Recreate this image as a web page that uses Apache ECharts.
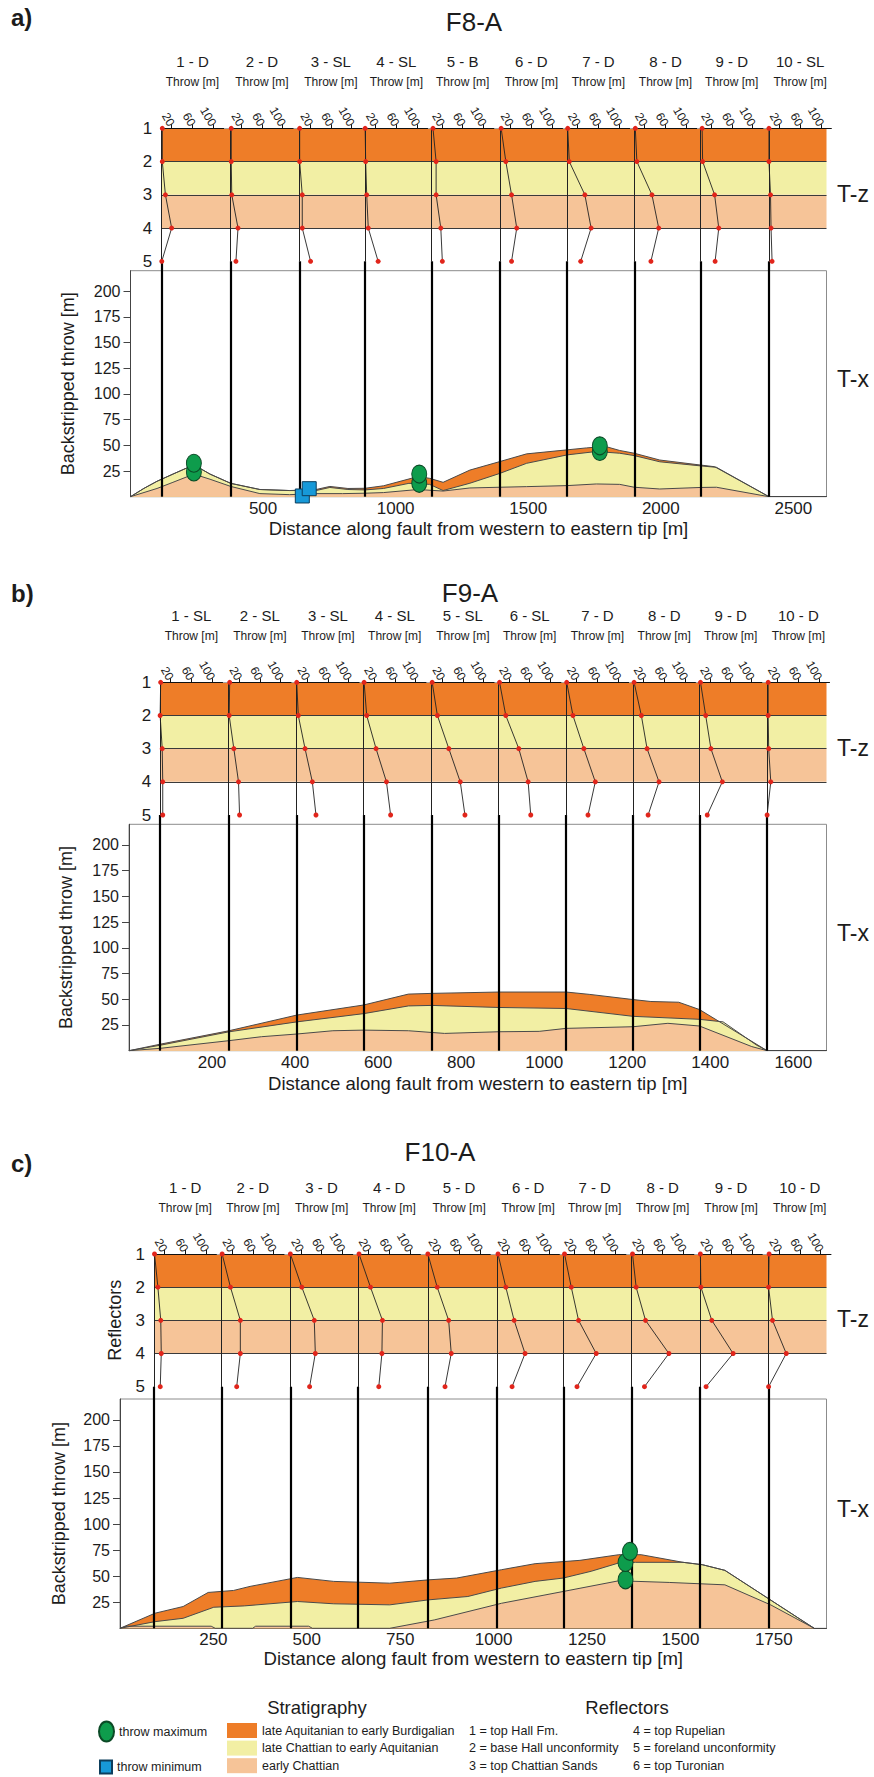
<!DOCTYPE html>
<html>
<head>
<meta charset="utf-8">
<script src="https://cdn.jsdelivr.net/npm/echarts@6/dist/echarts.min.js"></script>
<style>
  html, body { margin: 0; background: #fff; }
  #c { width: 874px; height: 1777px; }
</style>
</head>
<body>
<div id="c"></div>
<script>
/* shared values */
const REFLECTORS = [1, 2, 3, 4, 5]
const REFLECTOR_NAMES = ['top Hall Fm.', 'base Hall unconformity', 'top Chattian Sands',
  'top Rupelian', 'foreland unconformity', 'top Turonian']
const UNITS = ['late Aquitanian to early Burdigalian', 'late Chattian to early Aquitanian', 'early Chattian']
const UNIT_BANDS = [[1, 2], [2, 3], [3, 4]]   // reflector interval of each unit
const THROW_TICKS = [20, 60, 100]
const Y_TICKS = [25, 50, 75, 100, 125, 150, 175, 200]
const Y_MAX = 220
const THROW_MAX = 120

/* a) F8-A */
const A_WELLS = [116, 378, 638, 885, 1135, 1394, 1647, 1900, 2150, 2408]
const A_KIND = ['1 - D', '2 - D', '3 - SL', '4 - SL', '5 - B', '6 - D', '7 - D', '8 - D', '9 - D', '10 - SL']
const A_THROW = [[2, 2, 8, 20, 1], [1, 1, 2, 14, 10], [0, 0, 5, 5, 21], [0, 1, 3, 6, 25], [3, 9, 9, 18, 21],
  [2, 11, 22, 32, 22], [1, 4, 34, 46, 26], [2, 5, 34, 47, 32], [3, 4, 27, 35, 28], [0, 0, 3, 4, 6]]
const A_TOP_BURDIGALIAN = [[0, 0], [50, 8], [100, 15], [160, 22], [239, 31], [300, 22], [378, 13], [488, 7],
  [600, 6], [700, 7], [752, 10], [820, 8], [885, 8.2], [954, 10.6], [1084, 19.6], [1128, 17.9], [1179, 14],
  [1280, 25.9], [1393, 34.2], [1494, 41.7], [1647, 45.6], [1720, 47.5], [1790, 49], [1845, 45], [1900, 42.3],
  [1996, 35.7], [2150, 30.8], [2203, 29.2], [2408, 0]]
const A_TOP_AQUITANIAN = [[0, 0], [50, 8], [100, 15], [160, 22], [239, 31], [300, 22], [378, 13], [488, 7],
  [600, 6], [700, 6], [752, 9], [820, 7], [885, 6.6], [954, 8], [1050, 13], [1128, 12], [1179, 6],
  [1280, 13.1], [1393, 22.7], [1494, 32.5], [1647, 40.7], [1757, 44], [1845, 42.3], [1900, 40], [1996, 34],
  [2150, 30], [2210, 28.6], [2408, 0]]
const A_TOP_CHATTIAN = [[0, 0], [100, 8], [160, 14], [239, 22], [300, 17], [378, 10], [488, 3], [600, 2],
  [700, 3], [800, 3], [885, 3.4], [954, 4], [1084, 7], [1179, 5.5], [1280, 8.5], [1393, 9.2], [1494, 9.8],
  [1647, 10.8], [1757, 12.4], [1845, 12], [1900, 9.2], [1996, 7.5], [2150, 9], [2210, 9.2], [2408, 0]]
const A_MAX = [[239, 24], [239, 32.5], [1089, 13], [1089, 22], [1770, 44], [1770, 49.5]]
const A_MIN = [[648, 0.7], [674, 7.8]]
const A_X_MAX = 2625
const A_X_TICKS = [500, 1000, 1500, 2000, 2500]

/* b) F9-A */
const B_WELLS = [75, 240, 404, 565, 729, 890, 1053, 1214, 1374, 1537]
const B_KIND = ['1 - SL', '2 - SL', '3 - SL', '4 - SL', '5 - SL', '6 - SL', '7 - D', '8 - D', '9 - D', '10 - D']
const B_THROW = [[1, 0, 4, 5, 5], [2, 1, 10, 19, 21], [0, 3, 16, 30, 37], [1, 6, 24, 44, 52], [1, 11, 33, 55, 64],
  [2, 14, 39, 57, 62], [1, 13, 34, 56, 42], [2, 16, 27, 50, 29], [2, 12, 22, 44, 15], [2, 2, 3, 7, 0]]
const B_TOP_BURDIGALIAN = [[0, 0], [75, 6.3], [240, 19.3], [404, 34.6], [565, 44.4], [673, 55], [729, 55.7],
  [890, 57], [1053, 57], [1110, 54.7], [1214, 49.7], [1257, 47.8], [1324, 47.1], [1374, 40], [1537, 0]]
const B_TOP_AQUITANIAN = [[0, 0], [75, 5.3], [240, 18.3], [404, 28], [565, 36], [673, 43.5], [729, 44],
  [890, 42], [1053, 41], [1214, 33.4], [1374, 30.5], [1431, 28], [1512, 5.3], [1537, 0]]
const B_TOP_CHATTIAN = [[0, 0], [75, 2.3], [240, 9.7], [319, 13.6], [404, 16.2], [491, 19.4], [565, 20],
  [673, 19.4], [760, 16.8], [890, 18.4], [988, 18.8], [1053, 21.7], [1214, 23.3], [1298, 26.6], [1374, 24],
  [1500, 4], [1537, 0]]
const B_MAX = []
const B_MIN = []
const B_X_MAX = 1680
const B_X_TICKS = [200, 400, 600, 800, 1000, 1200, 1400, 1600]

/* c) F10-A */
const C_WELLS = [91, 272, 456, 637, 824, 1009, 1187, 1369, 1552, 1736]
const C_KIND = ['1 - D', '2 - D', '3 - D', '4 - D', '5 - D', '6 - D', '7 - D', '8 - D', '9 - D', '10 - D']
const C_THROW = [[1, 7.5, 13, 14, 12], [1, 17, 36, 36, 29], [0, 22, 46, 48, 37], [2, 24, 47, 46, 40],
  [0, 18, 40, 45, 33], [2, 17, 33, 54, 29], [2, 15, 29, 63, 26], [2, 9, 27, 72, 25], [1, 2, 23, 64, 12],
  [1, 0, 7.5, 34, 0]]
const C_TOP_BURDIGALIAN = [[0, 0], [94, 14.5], [169, 20.9], [236, 34.4], [304, 36.3], [348, 40.2], [475, 48.8],
  [572, 45], [722, 43.3], [826, 46.5], [901, 48.2], [1021, 56.2], [1111, 62], [1231, 65.2], [1335, 70.6],
  [1395, 70.6], [1507, 63.3], [1559, 61], [1619, 55.6], [1858, 0]]
const C_TOP_AQUITANIAN = [[0, 0], [94, 6.4], [169, 9.6], [251, 20.2], [333, 21.5], [475, 25.7], [572, 23.5],
  [722, 22.5], [826, 27.3], [931, 30.5], [1021, 38.6], [1111, 45], [1186, 48.2], [1261, 54.7], [1335, 62.7],
  [1380, 63.3], [1507, 63.3], [1559, 61], [1619, 55.6], [1858, 0]]
const C_TOP_CHATTIAN = [[0, 0], [19, 2], [244, 2], [255, 0], [355, 0], [363, 2], [505, 2], [515, 0], [722, 0],
  [841, 8], [1021, 24], [1186, 35.3], [1335, 45.6], [1470, 44], [1619, 41.7], [1742, 22.4], [1858, 0]]
const C_MAX = [[1353, 46.5], [1353, 63.2], [1365, 73.8]]
const C_MIN = []
const C_X_MAX = 1891
const C_X_TICKS = [250, 500, 750, 1000, 1250, 1500, 1750]

/* look: no narrow face is installed, so sizes are picked to match text widths */
const FONT = '"Liberation Sans", Arial, sans-serif'
const INK = '#1c1c1c'
const UNIT_COLORS = ['#EE7D28', '#F2EFA4', '#F6C498']
const ELLIPSE = 'path://M10,0A10,13,0,1,1,10,26A10,13,0,1,1,10,0Z'
const RIGHT = 826.5
const THROW_W = 62.4

const LAYOUT = [
  { tag: 'a)', tagY: 17, title: 'F8-A', titleX: 474, titleY: 22, r1: 128.3, r5: 261.3,
    top: 270.7, bottom: 496.7, left: 130.5, xNameGap: 22, yNameGap: 54, refName: '' },
  { tag: 'b)', tagY: 593, title: 'F9-A', titleX: 470, titleY: 593, r1: 682.3, r5: 815,
    top: 824.3, bottom: 1050.7, left: 129, xNameGap: 23, yNameGap: 54, refName: '' },
  { tag: 'c)', tagY: 1163, title: 'F10-A', titleX: 440, titleY: 1152, r1: 1254, r5: 1386.7,
    top: 1399, bottom: 1628.3, left: 120, xNameGap: 21, yNameGap: 52, refName: 'Reflectors' },
]
const DATA = [
  { wells: A_WELLS, kind: A_KIND, throws: A_THROW, tops: [A_TOP_BURDIGALIAN, A_TOP_AQUITANIAN, A_TOP_CHATTIAN],
    max: A_MAX, min: A_MIN, xMax: A_X_MAX, xTicks: A_X_TICKS },
  { wells: B_WELLS, kind: B_KIND, throws: B_THROW, tops: [B_TOP_BURDIGALIAN, B_TOP_AQUITANIAN, B_TOP_CHATTIAN],
    max: B_MAX, min: B_MIN, xMax: B_X_MAX, xTicks: B_X_TICKS },
  { wells: C_WELLS, kind: C_KIND, throws: C_THROW, tops: [C_TOP_BURDIGALIAN, C_TOP_AQUITANIAN, C_TOP_CHATTIAN],
    max: C_MAX, min: C_MIN, xMax: C_X_MAX, xTicks: C_X_TICKS },
]

const grid = [], xAxis = [], yAxis = [], series = [], graphic = []
const text = (x, y, s, style) => graphic.push({ type: 'text', x, y, silent: true,
  style: { text: s, fill: INK, fontFamily: FONT, verticalAlign: 'middle', align: 'left', ...style } })

function addPanel(L, D) {
  const pxPerM = (RIGHT - L.left) / D.xMax
  const px = m => L.left + m * pxPerM

  /* T-x: backstripped throw vs distance */
  const tx = grid.length
  grid.push({ left: L.left, top: L.top, width: RIGHT - L.left, height: L.bottom - L.top,
    show: true, borderColor: '#8c8c8c', borderWidth: 1, backgroundColor: 'transparent' })
  xAxis.push({ gridIndex: tx, type: 'value', min: 0, max: D.xMax, splitLine: { show: false },
    axisLine: { onZero: false, lineStyle: { color: '#444' } }, axisTick: { show: false },
    axisLabel: { customValues: D.xTicks, formatter: v => String(v), color: INK, fontFamily: FONT,
      fontSize: 17, margin: 3 },
    name: 'Distance along fault from western to eastern tip [m]', nameLocation: 'middle',
    nameGap: L.xNameGap, nameTextStyle: { fontFamily: FONT, fontSize: 18.6, color: INK } })
  yAxis.push({ gridIndex: tx, type: 'value', min: 0, max: Y_MAX, splitLine: { show: false },
    axisLine: { show: true, lineStyle: { color: '#444' } },
    axisTick: { show: true, customValues: Y_TICKS, length: 7, lineStyle: { color: '#444' } },
    axisLabel: { customValues: Y_TICKS, color: INK, fontFamily: FONT, fontSize: 16, margin: 10 },
    name: 'Backstripped throw [m]', nameLocation: 'middle', nameGap: L.yNameGap,
    nameTextStyle: { fontFamily: FONT, fontSize: 18, color: INK } })
  D.tops.forEach((t, k) => series.push({ type: 'line', name: UNITS[k], xAxisIndex: tx, yAxisIndex: tx,
    data: t, symbol: 'none', color: UNIT_COLORS[k], silent: true, animation: false, z: 2,
    lineStyle: { color: '#4a4a4a', width: 1 }, areaStyle: { color: UNIT_COLORS[k], opacity: 1 } }))
  const yTop = Y_MAX + (L.top - L.r5) * Y_MAX / (L.bottom - L.top)
  series.push({ type: 'lines', coordinateSystem: 'cartesian2d', xAxisIndex: tx, yAxisIndex: tx,
    clip: false, silent: true, z: 3, animation: false,
    lineStyle: { color: '#000', width: 2.2, opacity: 1 },
    data: D.wells.map(w => ({ coords: [[w, 0], [w, yTop]] })) })
  series.push({ type: 'scatter', name: 'throw maximum', xAxisIndex: tx, yAxisIndex: tx, data: D.max,
    symbol: ELLIPSE, symbolSize: [15, 18], symbolKeepAspect: false, z: 4, animation: false,
    itemStyle: { color: '#0E9C4C', borderColor: '#0B4A26', borderWidth: 1, opacity: 1 } })
  series.push({ type: 'scatter', name: 'throw minimum', xAxisIndex: tx, yAxisIndex: tx, data: D.min,
    symbol: 'rect', symbolSize: 14, z: 4, animation: false,
    itemStyle: { color: '#1799D8', borderColor: '#0D3E5C', borderWidth: 1, opacity: 1 } })

  /* T-z: layer bands between reflectors */
  const tz = grid.length
  const x0 = px(D.wells[0])
  grid.push({ left: x0, top: L.r1, width: RIGHT - x0, height: L.r5 - L.r1 })
  xAxis.push({ gridIndex: tz, type: 'value', min: 0, max: 1, show: false })
  yAxis.push({ gridIndex: tz, type: 'value', min: 1, max: 5, interval: 1, inverse: true,
    axisLine: { show: false }, axisTick: { show: false }, splitLine: { show: false },
    axisLabel: { color: INK, fontFamily: FONT, fontSize: 17, margin: 9 },
    name: L.refName, nameLocation: 'middle', nameGap: 30,
    nameTextStyle: { fontFamily: FONT, fontSize: 18, color: INK } })
  series.push({ type: 'line', xAxisIndex: tz, yAxisIndex: tz, data: [], silent: true, z: 1,
    markArea: { silent: true, data: UNIT_BANDS.map((b, k) => [
      { yAxis: b[0], itemStyle: { color: UNIT_COLORS[k], opacity: 1 } }, { yAxis: b[1] }]) },
    markLine: { silent: true, symbol: 'none', label: { show: false }, animation: false,
      data: REFLECTORS.slice(0, 4).map(r => ({ yAxis: r,
        lineStyle: { color: r === 1 ? '#a8a8a8' : '#3a3a3a', width: 1, type: 'solid' } })) } })

  /* one throw-vs-reflector profile per well */
  D.wells.forEach((w, i) => {
    const g = grid.length
    grid.push({ left: px(w), top: L.r1, width: THROW_W, height: L.r5 - L.r1 })
    xAxis.push({ gridIndex: g, type: 'value', position: 'top', min: 0, max: THROW_MAX, z: 10,
      splitLine: { show: false },
      axisLine: { show: true, onZero: false, lineStyle: { color: '#111', width: 1 } },
      axisTick: { show: true, customValues: THROW_TICKS, length: 4, lineStyle: { color: '#111' } },
      axisLabel: { customValues: THROW_TICKS, rotate: 60, color: INK, fontFamily: FONT, fontSize: 12, margin: 3 },
      name: `{w|${D.kind[i]}}\n{t|Throw [m]}`, nameLocation: 'middle', nameGap: 36,
      nameTextStyle: { rich: {
        w: { fontFamily: FONT, fontSize: 15, lineHeight: 21, color: INK, align: 'center' },
        t: { fontFamily: FONT, fontSize: 12, lineHeight: 20, color: INK, align: 'center' } } } })
    yAxis.push({ gridIndex: g, type: 'value', min: 1, max: 5, inverse: true, z: 10,
      axisLine: { show: true, onZero: false, lineStyle: { color: '#222', width: 1 } },
      axisTick: { show: false }, axisLabel: { show: false }, splitLine: { show: false } })
    series.push({ type: 'line', xAxisIndex: g, yAxisIndex: g, clip: false, z: 12, silent: true,
      animation: false, data: D.throws[i].map((t, k) => [t, REFLECTORS[k]]),
      symbol: 'circle', symbolSize: 5, itemStyle: { color: '#E1251B' },
      lineStyle: { color: '#222', width: 0.9 } })
  })

  /* panel texts */
  text(11, L.tagY, L.tag, { fontSize: 24, fontWeight: 'bold' })
  text(L.titleX, L.titleY, L.title, { fontSize: 26, align: 'center' })
  text(837, (L.r1 + L.r5) / 2 - 1, 'T-z', { fontSize: 23 })
  text(837, (L.top + L.bottom) / 2 - 5, 'T-x', { fontSize: 23 })
}

LAYOUT.forEach((L, i) => addPanel(L, DATA[i]))

/* legend texts */
text(317, 1707, 'Stratigraphy', { fontSize: 18.5, align: 'center' })
text(627, 1707, 'Reflectors', { fontSize: 18.5, align: 'center' })
REFLECTOR_NAMES.forEach((n, i) => text(i < 3 ? 469 : 633, 1730.7 + (i % 3) * 17.6, `${i + 1} = ${n}`,
  { fontSize: 12.6 }))

const legendText = { fontFamily: FONT, fontSize: 12.5, color: INK, lineHeight: 15 }
const option = {
  animation: false,
  backgroundColor: '#fff',
  grid, xAxis, yAxis, series, graphic,
  legend: [
    { data: ['throw maximum'], left: 98, top: 1720.5, orient: 'vertical', padding: 0, selectedMode: false,
      itemWidth: 15, itemHeight: 20, icon: ELLIPSE, symbolKeepAspect: false, textStyle: legendText },
    { data: ['throw minimum'], left: 99, top: 1759.5, orient: 'vertical', padding: 0, selectedMode: false,
      itemWidth: 12, itemHeight: 13, icon: 'rect', textStyle: legendText },
    { data: UNITS, left: 227, top: 1723, orient: 'vertical', padding: 0, selectedMode: false,
      itemWidth: 30, itemHeight: 15, itemGap: 2.6, icon: 'rect', textStyle: legendText },
  ],
}

const chart = echarts.init(document.getElementById('c'), null, { renderer: 'svg' })
chart.setOption(option)
</script>
</body>
</html>
